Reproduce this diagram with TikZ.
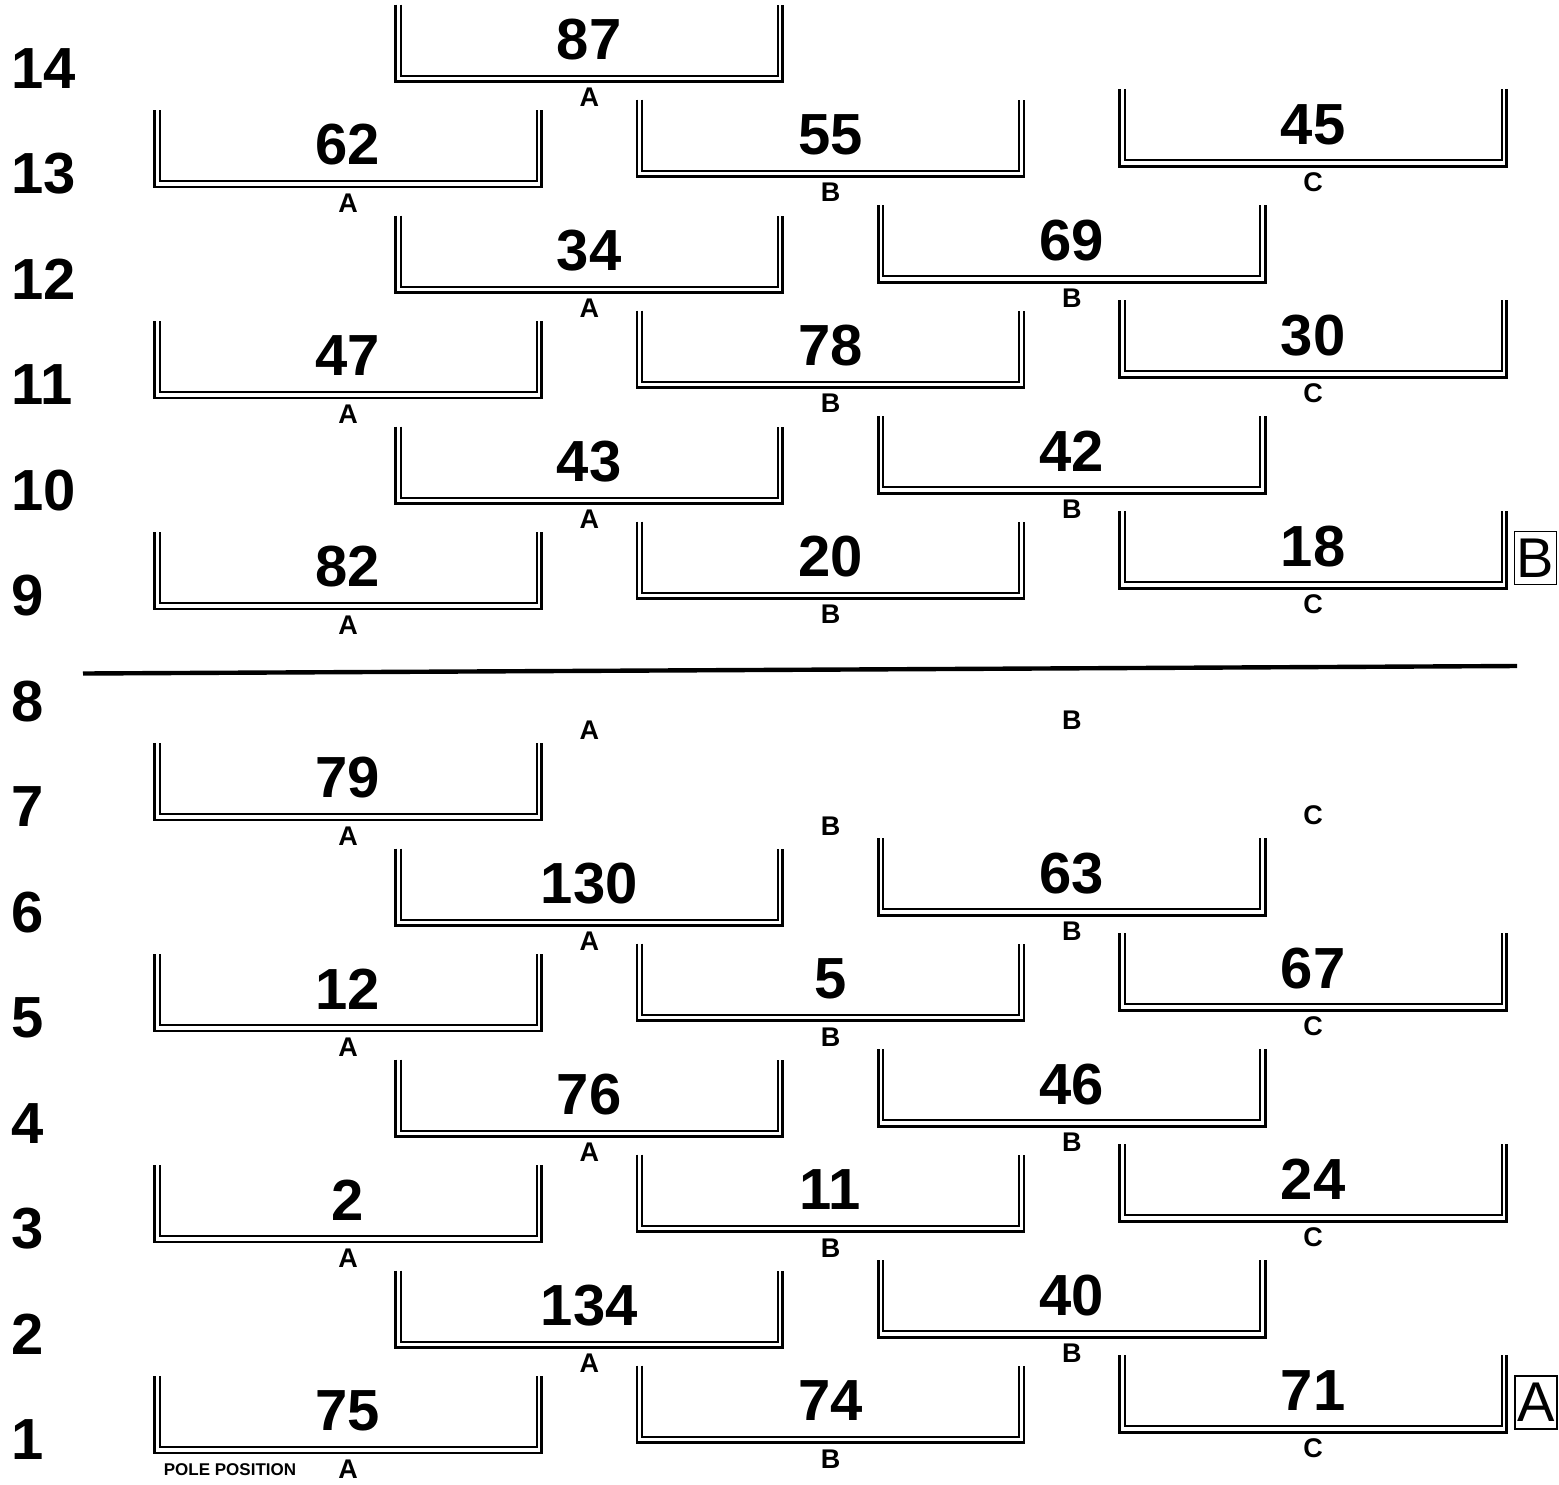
\documentclass[tikz,border=0pt]{standalone}
\usepackage{fontspec}
\setmainfont{Liberation Sans}
\tikzset{
  wall/.style={line width=1.35pt},
  wallin/.style={line width=1pt},
  carno/.style={font=\fontsize{29}{30}\selectfont\bfseries, inner sep=0pt},
  lane/.style={font=\fontsize{13.5}{15}\selectfont\bfseries, inner sep=0pt},
  rowno/.style={font=\fontsize{29}{30}\selectfont\bfseries, inner sep=0pt, anchor=west},
  start/.style={draw, line width=0.6pt, font=\fontsize{28}{30}\selectfont, inner sep=0pt, minimum width=21pt, minimum height=26.5pt},
}

\begin{document}
\begin{tikzpicture}[x=0.5pt, y=-0.5pt]
  \useasboundingbox (0,0) rectangle (1559,1484);
  % row numbers down the left
  \foreach \row in {1,...,14}
    \node[rowno] (row-\row) at (11,{1440-105.5*(\row-1)}) {\row};
  % grid slots: row/column/car/lane
  \foreach \row/\col/\car/\side in {
      14/2/87/A,
      13/1/62/A, 13/3/55/B, 13/5/45/C,
      12/2/34/A, 12/4/69/B,
      11/1/47/A, 11/3/78/B, 11/5/30/C,
      10/2/43/A, 10/4/42/B,
      9/1/82/A, 9/3/20/B, 9/5/18/C,
      7/1/79/A,
      6/2/130/A, 6/4/63/B,
      5/1/12/A, 5/3/5/B, 5/5/67/C,
      4/2/76/A, 4/4/46/B,
      3/1/2/A, 3/3/11/B, 3/5/24/C,
      2/2/134/A, 2/4/40/B,
      1/1/75/A, 1/3/74/B, 1/5/71/C} {
    \pgfmathsetmacro{\bx}{154.5+241.25*(\col-1)}
    \pgfmathsetmacro{\by}{1453-105.5*(\row-1)-10.3*floor((\col-1)/2)}
    \draw[wall] ({\bx},{\by-77}) -- ({\bx},{\by}) -- ({\bx+387},{\by}) -- ({\bx+387},{\by-77});
    \draw[wallin] ({\bx+5},{\by-77}) -- ({\bx+5},{\by-6}) -- ({\bx+382},{\by-6}) -- ({\bx+382},{\by-77});
    \node[carno] (car-\car) at ({\bx+193.5},{\by-42}) {\car};
    \node[lane] (lane-\row-\col) at ({\bx+193.5},{\by+16}) {\side};
  }
  % empty slots, lane letters only
  \foreach \row/\col/\side in {8/2/A, 8/4/B, 7/3/B, 7/5/C} {
    \pgfmathsetmacro{\bx}{154.5+241.25*(\col-1)}
    \pgfmathsetmacro{\by}{1453-105.5*(\row-1)-10.3*floor((\col-1)/2)}
    \node[lane] (lane-\row-\col) at ({\bx+193.5},{\by+16}) {\side};
  }
  % the break between the two halves
  \coordinate (rule-w) at (83,673.5);
  \coordinate (rule-e) at (1517,666);
  \draw[line width=2.2pt] (rule-w) -- (rule-e);
  \node[start] (start-B) at (1535.5,558) {B};
  \node[start] (start-A) at (1536,1402.5) {A};
  \node[font=\fontsize{8.5}{10}\selectfont\bfseries, inner sep=0pt] (pole) at (230,1470) {POLE POSITION};
\end{tikzpicture}
\end{document}
